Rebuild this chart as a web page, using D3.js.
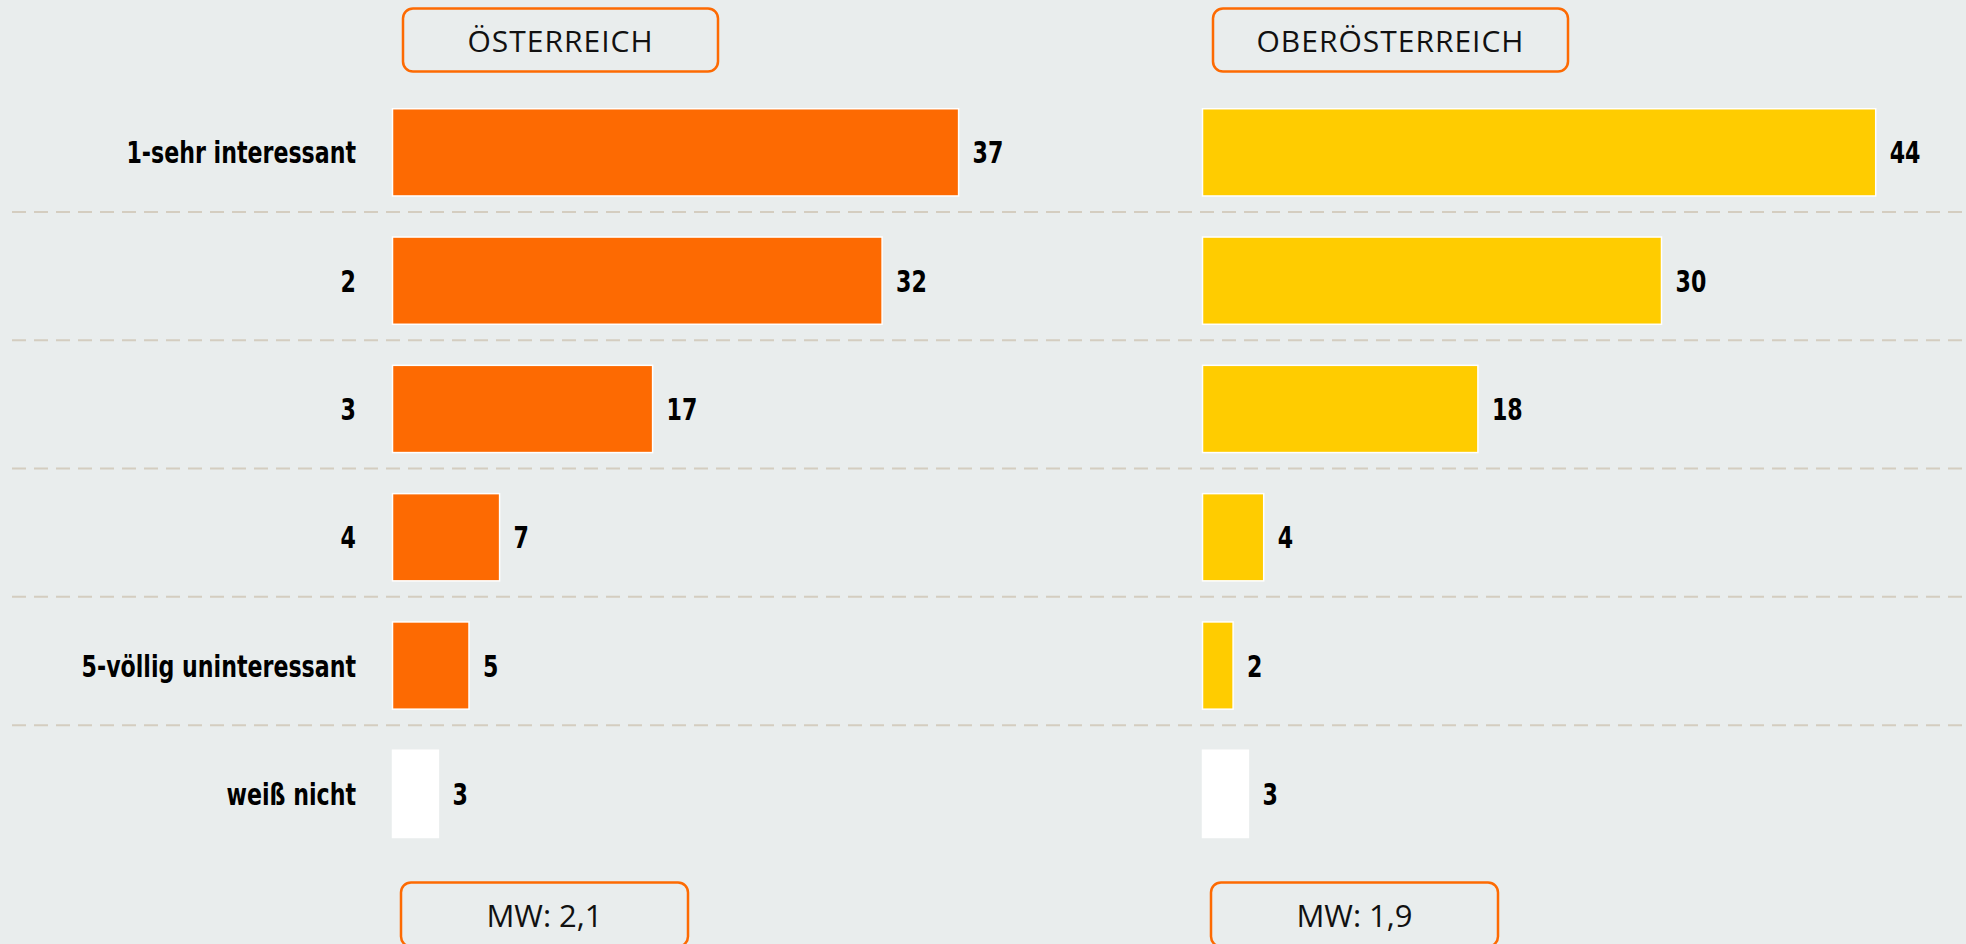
<!DOCTYPE html>
<html>
<head>
<meta charset="utf-8">
<script src="https://cdn.jsdelivr.net/npm/d3@7"></script>
<style>
  html, body { margin: 0; padding: 0; background: #e9eded; }
  svg { display: block; }
</style>
</head>
<body>
<div id="chart"></div>
<script>
// data
const categories = ["1-sehr interessant", "2", "3", "4", "5-völlig uninteressant", "weiß nicht"];
const oesterreich = [37, 32, 17, 7, 5, 3];
const oberoesterreich = [44, 30, 18, 4, 2, 3];
const panelTitles = ["ÖSTERREICH", "OBERÖSTERREICH"];
const meanLabels = ["MW: 2,1", "MW: 1,9"];

const width = 1966, height = 944;
const orange = "#fd6a02", yellow = "#ffcc00";
const labelFont = "'DejaVu Sans Condensed', 'DejaVu Sans', sans-serif";
const boxFont = "'Open Sans', 'Liberation Sans', sans-serif";
const squeeze = 0.82; // labels in the original are narrower than DejaVu

let svg = d3.select("#chart")
            .append("svg")
            .attr("width", width)
            .attr("height", height);

svg.append("rect")
   .attr("width", width)
   .attr("height", height)
   .attr("fill", "#e9eded");

// scales
let yScale = d3.scaleBand()
               .domain(categories)
               .range([88.2, 858])
               .paddingInner(0.32)
               .paddingOuter(0.16);

let xScale = d3.scaleLinear()
               .domain([0, 50])
               .range([0, 765]);

// dashed separators
svg.selectAll("line.sep")
   .data(categories.slice(0, categories.length - 1))
   .enter()
   .append("line")
   .attr("class", "sep")
   .attr("x1", 12)
   .attr("x2", width)
   .attr("y1", d => yScale(d) + yScale.bandwidth() + 16)
   .attr("y2", d => yScale(d) + yScale.bandwidth() + 16)
   .attr("stroke", "#d4cdc0")
   .attr("stroke-width", 2)
   .attr("stroke-dasharray", "14,8");

// category labels
svg.selectAll("text.cat")
   .data(categories)
   .enter()
   .append("text")
   .attr("class", "cat")
   .attr("transform", d => "translate(356," + (yScale(d) + yScale.bandwidth() / 2 + 11) + ") scale(" + squeeze + ",1)")
   .attr("text-anchor", "end")
   .style("font-family", labelFont)
   .style("font-weight", "bold")
   .style("font-size", "30px")
   .attr("fill", "#000")
   .text(d => d);

const panels = [
    {x: 392.5, values: oesterreich, color: orange, title: panelTitles[0], mean: meanLabels[0], titleW: 315},
    {x: 1202.5, values: oberoesterreich, color: yellow, title: panelTitles[1], mean: meanLabels[1], titleW: 355}
];

panels.forEach(p => {
    let rows = categories.map((c, i) => ({cat: c, value: p.values[i], last: i === categories.length - 1}));
    let g = svg.append("g").attr("transform", "translate(" + p.x + ",0)");

    g.selectAll("rect")
     .data(rows)
     .enter()
     .append("rect")
     .attr("x", 0)
     .attr("y", d => yScale(d.cat))
     .attr("width", d => xScale(d.value))
     .attr("height", yScale.bandwidth())
     .attr("fill", d => d.last ? "#ffffff" : p.color)
     .attr("stroke", "#ffffff")
     .attr("stroke-width", 1.5);

    g.selectAll("text.val")
     .data(rows)
     .enter()
     .append("text")
     .attr("class", "val")
     .attr("transform", d => "translate(" + (xScale(d.value) + 14) + "," + (yScale(d.cat) + yScale.bandwidth() / 2 + 11) + ") scale(" + squeeze + ",1)")
     .style("font-family", labelFont)
     .style("font-weight", "bold")
     .style("font-size", "30px")
     .attr("fill", "#000")
     .text(d => d.value);

    // title box
    g.append("rect")
     .attr("x", 10.5)
     .attr("y", 8.5)
     .attr("width", p.titleW)
     .attr("height", 63)
     .attr("rx", 10)
     .attr("fill", "none")
     .attr("stroke", orange)
     .attr("stroke-width", 2.5);
    g.append("text")
     .attr("x", 10.5 + p.titleW / 2)
     .attr("y", 51.5)
     .attr("text-anchor", "middle")
     .style("font-family", boxFont)
     .style("font-size", "30px")
     .style("letter-spacing", "1px")
     .attr("fill", "#111")
     .text(p.title);

    // mean box
    g.append("rect")
     .attr("x", 8.5)
     .attr("y", 882.5)
     .attr("width", 287)
     .attr("height", 64)
     .attr("rx", 10)
     .attr("fill", "none")
     .attr("stroke", orange)
     .attr("stroke-width", 2.5);
    g.append("text")
     .attr("x", 8.5 + 287 / 2)
     .attr("y", 926.5)
     .attr("text-anchor", "middle")
     .style("font-family", boxFont)
     .style("font-size", "31px")
     .attr("fill", "#111")
     .text(p.mean);
});
</script>
</body>
</html>
